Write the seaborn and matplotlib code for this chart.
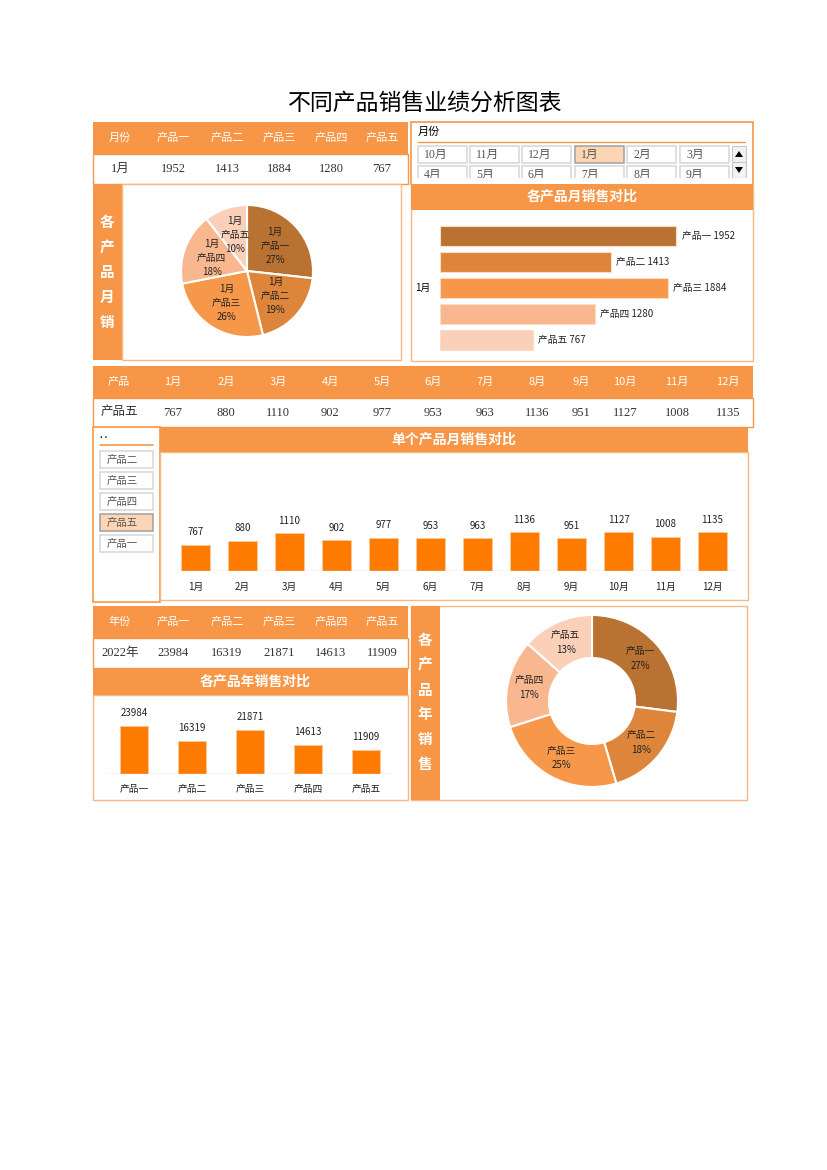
import numpy as np
import pandas as pd
import matplotlib
matplotlib.use('Agg')
import matplotlib.pyplot as plt
import seaborn as sns
from matplotlib.patches import Rectangle, Polygon

sns.set_theme(style='white')
plt.rcParams['font.family'] = ['Noto Sans CJK SC', 'DejaVu Sans']
plt.rcParams['axes.unicode_minus'] = False

# ---------------- data ----------------
title = '不同产品销售业绩分析图表'
products = ['产品一', '产品二', '产品三', '产品四', '产品五']
month_sel = '1月'
month_values = [1952, 1413, 1884, 1280, 767]
month_pct = [27, 19, 26, 18, 10]
months = ['1月', '2月', '3月', '4月', '5月', '6月', '7月', '8月', '9月', '10月', '11月', '12月']
selected_product = '产品五'
product_monthly = [767, 880, 1110, 902, 977, 953, 963, 1136, 951, 1127, 1008, 1135]
year_label = '2022年'
annual_values = [23984, 16319, 21871, 14613, 11909]
annual_pct = [27, 18, 25, 17, 13]
slicer_months = ['10月', '11月', '12月', '1月', '2月', '3月', '4月', '5月', '6月', '7月', '8月', '9月']
slicer_products = ['产品二', '产品三', '产品四', '产品五', '产品一']

# ---------------- styles ----------------
ORANGE = '#F79646'
LIGHT = '#F9B985'
BAR = '#FF7B00'
PIE_COLORS = ['#B97232', '#DD863B', '#F7974A', '#F8B78E', '#FAD0B9']
SERIF = ['Liberation Serif', 'Noto Sans CJK SC']
W, H = 827, 1170

fig = plt.figure(figsize=(8.27, 11.7), dpi=100)
fig.patch.set_facecolor('white')
bg = fig.add_axes([0, 0, 1, 1])
bg.set_xlim(0, W)
bg.set_ylim(H, 0)
bg.axis('off')


def px_axes(x0, y0, x1, y1):
    ax = fig.add_axes([x0 / W, 1 - y1 / H, (x1 - x0) / W, (y1 - y0) / H])
    ax.set_facecolor('none')
    return ax


def rect(x0, y0, x1, y1, fc='none', ec='none', lw=1.0, z=1):
    bg.add_patch(Rectangle((x0, y0), x1 - x0, y1 - y0, facecolor=fc,
                           edgecolor=ec, linewidth=lw, zorder=z))


def txt(x, y, s, size=8, color='black', weight='normal', family=None,
        ha='center', va='center', z=6):
    kw = {}
    if family is not None:
        kw['family'] = family
    bg.text(x, y, s, fontsize=size, color=color, fontweight=weight,
            ha=ha, va=va, zorder=z, **kw)


# ---------------- title ----------------
txt(425, 103, title, size=16.5, color='black', weight='medium')

# ---------------- table 1 ----------------
cols1 = [120, 173, 227, 279, 331, 382]
rect(93, 122, 408, 154, fc=ORANGE)
rect(93, 154, 408, 184, fc='white', ec=ORANGE, lw=1)
for x, s in zip(cols1, ['月份'] + products):
    txt(x, 138, s, size=8, color='white')
for x, s in zip(cols1, [month_sel] + [str(v) for v in month_values]):
    txt(x, 169, s, size=9, color='#333333', family=SERIF)

# left strip + pie panel
rect(93, 184, 122, 360, fc=ORANGE)
for i, ch in enumerate('各产品月销'):
    txt(107, 222 + 25 * i, ch, size=10.5, color='white', weight='bold')
rect(122, 184, 401, 360, fc='white', ec=LIGHT, lw=1)

# ---------------- slicer 1 ----------------
rect(411, 122, 753, 184, fc='white', ec=ORANGE, lw=1.2)
txt(418, 132, '月份', size=8, ha='left')
bg.plot([418, 745], [141.5, 141.5], color=ORANGE, lw=1, zorder=3)
lefts = [418, 470, 522, 575, 627, 680]
for r, top in enumerate([146, 166]):
    for j, x0 in enumerate(lefts):
        lab = slicer_months[r * 6 + j]
        sel = lab == month_sel
        rect(x0, top, x0 + 49, top + 17, fc='#FCD5B5' if sel else 'white',
             ec='#A6A6A6' if sel else '#D9D9D9', lw=1.2, z=2)
        txt(x0 + 6, top + 8.5, lab, size=8.5, color='#555555', family=SERIF,
            ha='left', z=3)
rect(732, 146, 746, 162, fc='#F2F2F2', ec='#C8C8C8', lw=0.8, z=2)
rect(732, 162, 746, 178, fc='#F2F2F2', ec='#C8C8C8', lw=0.8, z=2)
bg.add_patch(Polygon([[735, 157], [743, 157], [739, 151]], closed=True,
                     fc='black', ec='none', zorder=3))
bg.add_patch(Polygon([[735, 167], [743, 167], [739, 173]], closed=True,
                     fc='black', ec='none', zorder=3))
rect(412, 177.5, 752, 184, fc='white', z=4)

# band + panel for horizontal bars
rect(411, 184, 753, 361, fc='white', ec=LIGHT, lw=1, z=1)
rect(411, 184, 753, 210, fc=ORANGE, z=5)
txt(582, 197, '各产品月销售对比', size=10, color='white', weight='bold')
txt(423, 288, month_sel, size=7)

axh = px_axes(440, 223, 740, 353)
dfm = pd.DataFrame({'产品': products, '销量': month_values})
sns.barplot(data=dfm, x='销量', y='产品', hue='产品', palette=PIE_COLORS,
            orient='h', legend=False, width=0.77, ax=axh, saturation=1,
            edgecolor='#FCDCC6', linewidth=0.8)
axh.set_xlim(0, 2481)
axh.set_ylim(4.5, -0.5)
axh.axis('off')
for i, (p, v) in enumerate(zip(products, month_values)):
    axh.annotate(f'{p} {v}', (v, i), xytext=(4, 0), textcoords='offset points',
                 ha='left', va='center', fontsize=7, color='#222222')

# pie
axp = px_axes(181, 205, 313, 337)
axp.pie(month_values, colors=PIE_COLORS, startangle=90, counterclock=False,
        radius=1, labels=[f'{month_sel}\n{p}\n{q}%' for p, q in zip(products, month_pct)],
        labeldistance=0.57,
        textprops=dict(ha='center', va='center', fontsize=7, color='#222222',
                       linespacing=1.5),
        wedgeprops=dict(edgecolor='white', linewidth=1.5))
axp.set_xlim(-1, 1)
axp.set_ylim(-1, 1)
axp.set_aspect('equal')
axp.axis('off')

# ---------------- table 2 ----------------
cols2 = [119, 173, 226, 278, 330, 382, 433, 485, 537, 581, 625, 677, 728]
rect(93, 366, 753, 398, fc=ORANGE)
rect(93, 398, 753, 427, fc='white', ec=ORANGE, lw=1)
for x, s in zip(cols2, ['产品'] + months):
    txt(x, 382, s, size=8, color='white')
for x, s in zip(cols2, [selected_product] + [str(v) for v in product_monthly]):
    txt(x, 412.5, s, size=9, color='#333333', family=SERIF)

# slicer 2
rect(93, 427, 160, 602, fc='white', ec=ORANGE, lw=1.2)
txt(100, 436, '. .', size=6, ha='left', weight='bold')
bg.plot([100, 153], [444.5, 444.5], color=ORANGE, lw=1.2, zorder=3)
for k, lab in enumerate(slicer_products):
    top = 451 + 21 * k
    sel = lab == selected_product
    rect(100, top, 153, top + 17, fc='#FCD5B5' if sel else 'white',
         ec='#A6A6A6' if sel else '#D9D9D9', lw=1.2, z=2)
    txt(107, top + 8.5, lab, size=7.5, color='#555555', ha='left', z=3)

# band + panel
rect(160, 452, 748, 600, fc='white', ec=LIGHT, lw=1)
rect(160, 428, 748, 452, fc=ORANGE)
txt(454, 440, '单个产品月销售对比', size=10, color='white', weight='bold')

axm = px_axes(172, 452, 736, 571)
dfp = pd.DataFrame({'月份': months, '销量': product_monthly})
sns.barplot(data=dfp, x='月份', y='销量', color=BAR, width=0.6, ax=axm,
            edgecolor='#FFC896', linewidth=0.6, saturation=1)
axm.set_ylim(0, 3480)
axm.set_xlim(-0.5, 11.5)
axm.axhline(0, color='#D9D9D9', lw=1)
sns.despine(ax=axm, left=True, bottom=True)
axm.set_yticks([])
axm.set_xlabel('')
axm.set_ylabel('')
axm.tick_params(axis='x', length=0, pad=8, labelsize=7, colors='#222222')
for i, v in enumerate(product_monthly):
    axm.annotate(str(v), (i, v), xytext=(0, 9), textcoords='offset points',
                 ha='center', va='center', fontsize=7, color='#222222')

# ---------------- table 3 ----------------
rect(93, 606, 408, 638, fc=ORANGE)
rect(93, 638, 408, 668, fc='white', ec=ORANGE, lw=1)
for x, s in zip(cols1, ['年份'] + products):
    txt(x, 622, s, size=8, color='white')
for x, s in zip(cols1, [year_label] + [str(v) for v in annual_values]):
    txt(x, 653, s, size=9, color='#333333', family=SERIF)

rect(93, 695, 408, 800, fc='white', ec=LIGHT, lw=1)
rect(93, 668, 408, 695, fc=ORANGE)
txt(255, 682, '各产品年销售对比', size=10, color='white', weight='bold')

axa = px_axes(105, 695, 395, 774)
dfa = pd.DataFrame({'产品': products, '销量': annual_values})
sns.barplot(data=dfa, x='产品', y='销量', color=BAR, width=0.48, ax=axa,
            edgecolor='#FFC896', linewidth=0.6, saturation=1)
axa.set_ylim(0, 39500)
axa.set_xlim(-0.5, 4.5)
axa.axhline(0, color='#D9D9D9', lw=1)
sns.despine(ax=axa, left=True, bottom=True)
axa.set_yticks([])
axa.set_xlabel('')
axa.set_ylabel('')
axa.tick_params(axis='x', length=0, pad=7, labelsize=7, colors='#222222')
for i, v in enumerate(annual_values):
    axa.annotate(str(v), (i, v), xytext=(0, 9.5), textcoords='offset points',
                 ha='center', va='center', fontsize=7, color='#222222')

# ---------------- donut ----------------
rect(411, 606, 747, 800, fc='white', ec=LIGHT, lw=1)
rect(411, 606, 440, 800, fc=ORANGE)
for i, ch in enumerate('各产品年销售'):
    txt(425, 640 + 24.8 * i, ch, size=10.5, color='white', weight='bold')

axd = px_axes(506, 615, 678, 787)
axd.pie(annual_values, colors=PIE_COLORS, startangle=90, counterclock=False,
        radius=1, labels=[f'{p}\n{q}%' for p, q in zip(products, annual_pct)],
        labeldistance=0.75,
        textprops=dict(ha='center', va='center', fontsize=7, color='#222222',
                       linespacing=1.6),
        wedgeprops=dict(width=0.5, edgecolor='white', linewidth=1.5))
axd.set_xlim(-1, 1)
axd.set_ylim(-1, 1)
axd.set_aspect('equal')
axd.axis('off')

fig.savefig('out.png', dpi=100, facecolor='white')
